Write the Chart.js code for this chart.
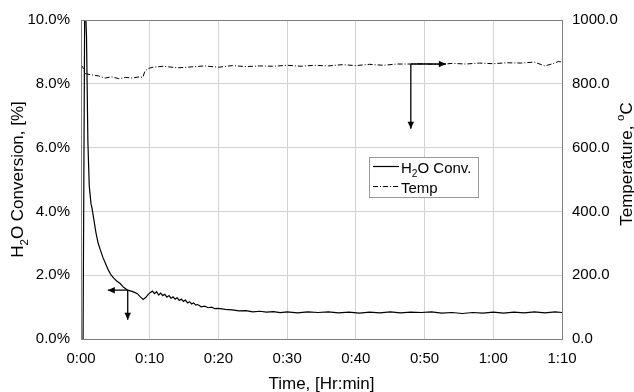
<!DOCTYPE html>
<html>
<head>
<meta charset="utf-8">
<script src="https://cdn.jsdelivr.net/npm/chart.js@4.4.0/dist/chart.umd.min.js"></script>
<style>
  html, body { margin: 0; padding: 0; background: #fff; }
  canvas { display: block; }
</style>
</head>
<body>
<canvas id="chart" width="634" height="392"></canvas>
<script>
// H2O conversion (%) vs time (minutes)
const convTime = [0.3, 0.55, 0.8, 1.0, 1.2, 1.45, 1.6, 1.9, 2.2, 2.5, 2.8, 3.2, 3.6, 4.0, 4.4, 4.8,
  5.2, 5.7, 6.2, 6.8, 7.3, 7.8, 8.2, 8.6, 9.05, 9.4, 9.8,
  10.1, 10.4, 10.7, 11.0, 11.3, 11.6, 11.9, 12.2, 12.5, 12.8, 13.1, 13.4, 13.7, 14.0, 14.3, 14.6, 14.9,
  15.2, 15.5, 15.8, 16.1, 16.4, 16.7, 17.0, 17.5, 18, 18.5, 19, 19.5, 20, 21, 22, 23, 24, 25, 26, 27, 28, 29, 30,
  31.5, 33, 34.5, 36, 37.5, 39, 40.5, 42, 43.5, 45, 46.5, 48, 49.5, 51, 52.5, 54, 55.5, 57, 58.5, 60,
  61.5, 63, 64.5, 66, 67.5, 69, 70];
const convValues = [0, 11, 9.5, 6.2, 4.8, 4.25, 4.1, 3.7, 3.3, 3.0, 2.8, 2.55, 2.35, 2.15, 2.0, 1.9,
  1.82, 1.74, 1.62, 1.53, 1.50, 1.46, 1.42, 1.33, 1.24, 1.30, 1.40,
  1.46, 1.50, 1.42, 1.48, 1.38, 1.44, 1.36, 1.40, 1.31, 1.36, 1.28, 1.32, 1.25, 1.29, 1.21, 1.25, 1.18,
  1.22, 1.13, 1.17, 1.10, 1.13, 1.06, 1.08, 1.01, 1.03, 0.98, 1.00, 0.95, 0.96, 0.93, 0.91, 0.88, 0.89, 0.85, 0.87, 0.84, 0.86, 0.83, 0.85,
  0.82, 0.85, 0.83, 0.85, 0.82, 0.84, 0.81, 0.84, 0.82, 0.85, 0.82, 0.84, 0.83, 0.85, 0.81, 0.83, 0.80, 0.83, 0.81, 0.84,
  0.81, 0.84, 0.82, 0.85, 0.82, 0.85, 0.83];

// Temperature (C) vs time (minutes)
const tempTime = [0.0, 0.3, 0.6, 1.5, 2.5, 3.5, 4.5, 5.5, 6.5, 7.5, 8.5, 9.0, 9.3, 9.8, 10.5, 12, 14, 16,
  18, 20, 22, 24, 26, 28, 30, 32, 34, 36, 38, 40, 42, 44, 46, 48, 50, 52, 54, 56, 58, 60, 62, 64, 66,
  67.5, 68.5, 69.5, 70];
const tempValues = [860, 850, 832, 828, 825, 818, 822, 816, 820, 818, 822, 820, 840, 848, 852, 855, 850, 853,
  856, 852, 857, 854, 856, 855, 858, 855, 858, 856, 860, 857, 861, 858, 862, 862, 863, 860, 864, 862, 865, 863, 866, 865, 868,
  856, 862, 870, 868];

// axis ranges / tick steps
const timeTicks = [0, 70, 10];
const convTicks = [0, 10, 2];
const tempTicks = [0, 1000, 200];

// arrow annotations: anchor time, anchor value, axis, arrow end along x, arrow end along y
const arrowNotes = [
  { t: 6.8, v: 1.53, axis: 'y', toT: 3.9, toV: 0.6 },
  { t: 48.0, v: 862, axis: 'y2', toT: 53.1, toV: 659 }
];

const FONT = '"Liberation Sans", Arial, sans-serif';
const fmtTime = v => Math.floor(v / 60) + ':' + String(Math.round(v % 60)).padStart(2, '0');

function arrowHead(ctx, x, y, dir) {
  const L = 7, W = 3.2;
  ctx.beginPath();
  if (dir === 'left') { ctx.moveTo(x, y); ctx.lineTo(x + L, y - W); ctx.lineTo(x + L, y + W); }
  if (dir === 'right') { ctx.moveTo(x, y); ctx.lineTo(x - L, y - W); ctx.lineTo(x - L, y + W); }
  if (dir === 'down') { ctx.moveTo(x, y); ctx.lineTo(x - W, y - L); ctx.lineTo(x + W, y - L); }
  ctx.closePath();
  ctx.fill();
}

// draws text with optional sub/superscript pieces, starting at x (baseline y)
function richText(ctx, parts, x, y, size) {
  parts.forEach(p => {
    const s = p.sub || p.sup ? size * 0.68 : size;
    ctx.font = s + 'px ' + FONT;
    const dy = p.sub ? size * 0.28 : p.sup ? -size * 0.45 : 0;
    ctx.fillText(p.text, x, y + dy);
    x += ctx.measureText(p.text).width;
  });
  return x;
}
function richWidth(ctx, parts, size) {
  let w = 0;
  parts.forEach(p => {
    ctx.font = (p.sub || p.sup ? size * 0.68 : size) + 'px ' + FONT;
    w += ctx.measureText(p.text).width;
  });
  return w;
}

const overlay = {
  id: 'overlay',
  afterDatasetsDraw(chart) {
    const { ctx, chartArea: a, scales } = chart;
    ctx.save();
    // frame
    ctx.strokeStyle = '#808080';
    ctx.lineWidth = 1;
    ctx.strokeRect(a.left + 0.5, a.top + 0.5, a.right - a.left, a.bottom - a.top);

    // arrows
    ctx.strokeStyle = '#000';
    ctx.fillStyle = '#000';
    arrowNotes.forEach(n => {
      const ys = scales[n.axis];
      const x0 = scales.x.getPixelForValue(n.t), y0 = ys.getPixelForValue(n.v);
      const x1 = scales.x.getPixelForValue(n.toT), y1 = ys.getPixelForValue(n.toV);
      ctx.lineWidth = 1.3;
      ctx.beginPath();
      ctx.moveTo(x0, y0); ctx.lineTo(x1, y0);
      ctx.moveTo(x0, y0); ctx.lineTo(x0, y1);
      ctx.stroke();
      arrowHead(ctx, x1, y0, x1 < x0 ? 'left' : 'right');
      arrowHead(ctx, x0, y1, 'down');
    });

    // legend
    const lx = 369, ly = 157, lw = 109, lh = 40;
    ctx.fillStyle = '#fff';
    ctx.fillRect(lx, ly, lw, lh);
    ctx.strokeStyle = '#999';
    ctx.lineWidth = 1;
    ctx.strokeRect(lx + 0.5, ly + 0.5, lw, lh);
    chart.data.datasets.forEach((ds, i) => {
      const yy = ly + 9.5 + i * 20;
      ctx.strokeStyle = '#000';
      ctx.lineWidth = ds.borderWidth;
      ctx.setLineDash(ds.borderDash || []);
      ctx.beginPath(); ctx.moveTo(lx + 4, yy); ctx.lineTo(lx + 30, yy); ctx.stroke();
      ctx.setLineDash([]);
      ctx.fillStyle = '#000';
      ctx.textBaseline = 'alphabetic';
      ctx.textAlign = 'left';
      const parts = i === 0 ? [{ text: 'H' }, { text: '2', sub: true }, { text: 'O Conv.' }] : [{ text: 'Temp' }];
      richText(ctx, parts, lx + 32, yy + 6.5, 15);
    });

    // axis titles
    ctx.fillStyle = '#000';
    ctx.textAlign = 'left';
    ctx.textBaseline = 'alphabetic';
    const xt = [{ text: 'Time, [Hr:min]' }];
    richText(ctx, xt, (a.left + a.right) / 2 - richWidth(ctx, xt, 17) / 2, 389, 17);

    const lt = [{ text: 'H' }, { text: '2', sub: true }, { text: 'O Conversion, [%]' }];
    ctx.save();
    ctx.translate(23, (a.top + a.bottom) / 2);
    ctx.rotate(-Math.PI / 2);
    richText(ctx, lt, -richWidth(ctx, lt, 17) / 2, 0, 17);
    ctx.restore();

    const rt = [{ text: 'Temperature, ' }, { text: 'o', sup: true }, { text: 'C' }];
    ctx.save();
    ctx.translate(632, 164);
    ctx.rotate(-Math.PI / 2);
    richText(ctx, rt, -richWidth(ctx, rt, 17) / 2, 0, 17);
    ctx.restore();

    ctx.restore();
  }
};

const tickFont = { family: FONT, size: 15 };
const gridColor = '#d2d2d2';

new Chart(document.getElementById('chart'), {
  type: 'line',
  data: {
    datasets: [
      {
        label: 'H2O Conv.',
        data: convTime.map((t, i) => ({ x: t, y: convValues[i] })),
        yAxisID: 'y',
        borderColor: '#000',
        borderWidth: 1.2,
        pointRadius: 0,
        tension: 0
      },
      {
        label: 'Temp',
        data: tempTime.map((t, i) => ({ x: t, y: tempValues[i] })),
        yAxisID: 'y2',
        borderColor: '#000',
        borderWidth: 1,
        borderDash: [5, 2, 1, 2],
        pointRadius: 0,
        tension: 0
      }
    ]
  },
  options: {
    responsive: false,
    animation: false,
    events: [],
    layout: { padding: { top: 19 } },
    plugins: { legend: { display: false }, tooltip: { enabled: false } },
    scales: {
      x: {
        type: 'linear',
        min: timeTicks[0], max: timeTicks[1],
        ticks: { stepSize: timeTicks[2], callback: fmtTime, color: '#000', font: tickFont, padding: 11, maxRotation: 0 },
        grid: { color: gridColor, drawTicks: false },
        border: { color: '#808080' },
        afterFit: s => { s.height = 53; }
      },
      y: {
        position: 'left',
        min: convTicks[0], max: convTicks[1],
        ticks: { stepSize: convTicks[2], callback: v => v.toFixed(1) + '%', color: '#000', font: tickFont, padding: 11 },
        grid: { color: gridColor, drawTicks: false },
        border: { color: '#808080' },
        afterFit: s => { s.width = 81; }
      },
      y2: {
        position: 'right',
        min: tempTicks[0], max: tempTicks[1],
        ticks: { stepSize: tempTicks[2], callback: v => v.toFixed(1), color: '#000', font: tickFont, padding: 10 },
        grid: { display: false, drawTicks: false },
        border: { color: '#808080' },
        afterFit: s => { s.width = 72; }
      }
    }
  },
  plugins: [overlay]
});
</script>
</body>
</html>
